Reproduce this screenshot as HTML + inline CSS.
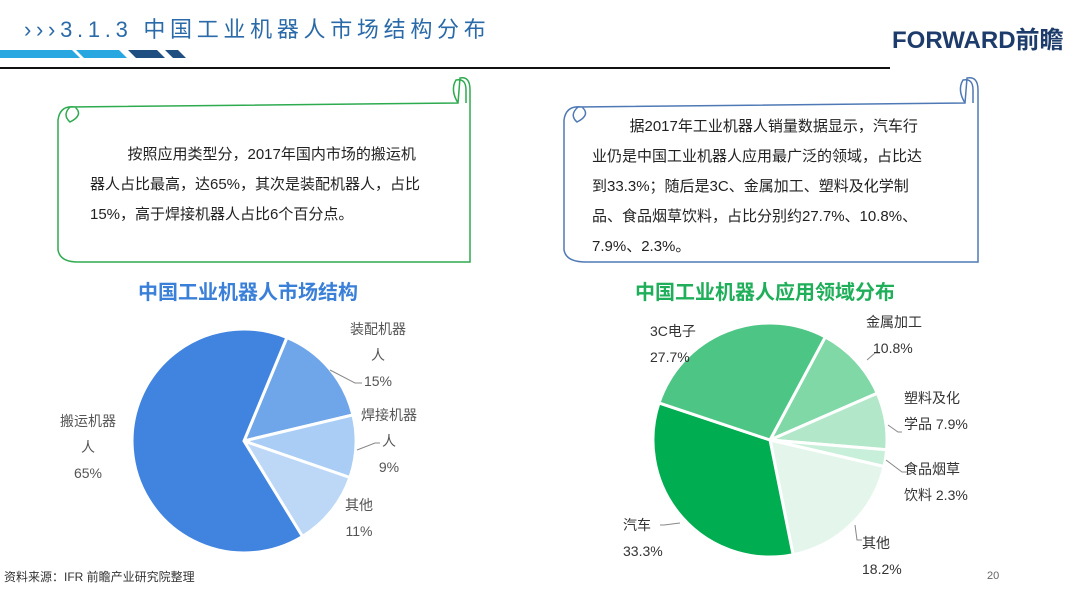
<!DOCTYPE html>
<html><head><meta charset="utf-8"><style>
body{margin:0;width:1080px;height:602px;background:#fff;overflow:hidden;font-family:"Liberation Sans","Noto Sans CJK SC",sans-serif;position:relative}
.t{position:absolute;white-space:nowrap}
.p{font-size:15px;color:#222;line-height:30px}
</style></head><body>
<svg width="1080" height="602" style="position:absolute;left:0;top:0">
<polygon points="0,50 72,50 80,58 0,58" fill="#29a7e0"/>
<polygon points="76,50 119,50 127,58 84,58" fill="#29a7e0"/>
<polygon points="128,50 157,50 165,58 136,58" fill="#1f4f80"/>
<polygon points="165,50 178,50 186,58 173,58" fill="#1f4f80"/>
<rect x="0" y="67" width="890" height="2" fill="#111"/>
<g fill="none" stroke="#2eaa4f" stroke-width="1.5">
<path d="M70,107 L458,103 L460,78 Q470,76 470,90 L470,262 L78,262 Q60,262 58,250 L58,120 Q60,105 75,107 Q84,115 70,122 Q62,115 70,107"/>
<path d="M458,103 Q450,90 456,80 Q466,78 466,90 L466,103"/>
</g>
<g fill="none" stroke="#4f79b5" stroke-width="1.5">
<path d="M578,107 L965,103 L967,78 Q978,76 978,90 L978,262 L586,262 Q566,262 564,250 L564,120 Q566,105 582,107 Q591,115 577,122 Q569,115 578,107"/>
<path d="M965,103 Q957,90 963,80 Q973,78 973,90 L973,103"/>
</g>
<g stroke="#fff" stroke-width="3">
<path d="M244,441 L286.9,337.5 A112,112 0 0 1 352.9,414.9 Z" fill="#6fa6e9"/>
<path d="M244,441 L352.9,414.9 A112,112 0 0 1 349.9,477.5 Z" fill="#a9cdf5"/>
<path d="M244,441 L349.9,477.5 A112,112 0 0 1 302.5,536.5 Z" fill="#bdd8f7"/>
<path d="M244,441 L302.5,536.5 A112,112 0 1 1 286.9,337.5 Z" fill="#4184e0"/>
</g>
<g stroke="#fff" stroke-width="3">
<path d="M770,440 L825.3,336.9 A117,117 0 0 1 877.2,393.2 Z" fill="#80d8a7"/>
<path d="M770,440 L877.2,393.2 A117,117 0 0 1 886.6,449.8 Z" fill="#b2e8c9"/>
<path d="M770,440 L886.6,449.8 A117,117 0 0 1 884.0,466.5 Z" fill="#c8efd9"/>
<path d="M770,440 L884.0,466.5 A117,117 0 0 1 793.1,554.7 Z" fill="#e4f6ec"/>
<path d="M770,440 L793.1,554.7 A117,117 0 0 1 659.0,402.9 Z" fill="#00ad50"/>
<path d="M770,440 L659.0,402.9 A117,117 0 0 1 825.3,336.9 Z" fill="#4cc585"/>
</g>
<g fill="none" stroke="#888" stroke-width="1">
<path d="M330,370 L355,383 L362,383"/><path d="M357,450 L375,443 L380,443"/>
<path d="M867,360 L875,353 L880,353"/><path d="M888,425 L898,432 L902,432"/>
<path d="M886,460 L902,472 L908,472"/><path d="M855,525 L857,540 L862,540"/>
<path d="M680,523 L664,525 L660,525"/>
</g>
</svg>
<div class="t" style="left:24px;top:12px;font-size:22px;color:#2a6aa8;letter-spacing:4.7px">›››3.1.3 中国工业机器人市场结构分布</div>
<div class="t" style="left:892px;top:20px;font-size:24px;font-weight:bold;color:#1d3c6b">FORWARD前瞻</div>
<div class="t p" style="left:90px;top:140px">&emsp;&emsp;&ensp;按照应用类型分，2017年国内市场的搬运机<br>器人占比最高，达65%，其次是装配机器人，占比<br>15%，高于焊接机器人占比6个百分点。</div>
<div class="t p" style="left:592px;top:112px">&emsp;&emsp;&ensp;据2017年工业机器人销量数据显示，汽车行<br>业仍是中国工业机器人应用最广泛的领域，占比达<br>到33.3%；随后是3C、金属加工、塑料及化学制<br>品、食品烟草饮料，占比分别约27.7%、10.8%、<br>7.9%、2.3%。</div>
<div class="t" style="left:138px;top:276px;font-size:20px;font-weight:bold;color:#3b80d8">中国工业机器人市场结构</div>
<div class="t" style="left:635px;top:276px;font-size:20px;font-weight:bold;color:#1fae5a">中国工业机器人应用领域分布</div>
<div style="position:absolute;font-size:14px;color:#555;line-height:26px;text-align:center">
<div class="t" style="left:347px;top:316px;width:62px">装配机器<br>人<br>15%</div>
<div class="t" style="left:358px;top:402px;width:62px">焊接机器<br>人<br>9%</div>
<div class="t" style="left:343px;top:492px;width:32px">其他<br>11%</div>
<div class="t" style="left:57px;top:408px;width:62px">搬运机器<br>人<br>65%</div>
</div>
<div style="position:absolute;font-size:14px;color:#333;line-height:26px">
<div class="t" style="left:650px;top:318px">3C电子<br>27.7%</div>
<div class="t" style="left:866px;top:309px">金属加工<br>&ensp;10.8%</div>
<div class="t" style="left:904px;top:385px">塑料及化<br>学品 7.9%</div>
<div class="t" style="left:904px;top:456px">食品烟草<br>饮料 2.3%</div>
<div class="t" style="left:862px;top:530px">其他<br>18.2%</div>
<div class="t" style="left:623px;top:512px">汽车<br>33.3%</div>
</div>
<div class="t" style="left:4px;top:568px;font-size:12px;color:#333">资料来源：IFR 前瞻产业研究院整理</div>
<div class="t" style="left:987px;top:570px;font-size:11px;color:#666">20</div>
</body></html>
